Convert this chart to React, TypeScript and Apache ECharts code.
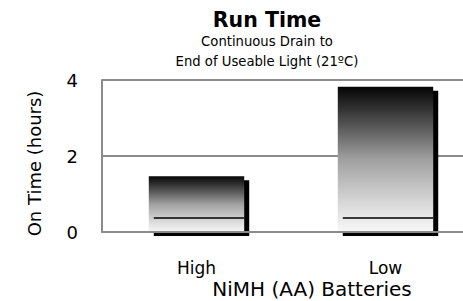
import React, { useEffect, useRef } from "react";
import * as echarts from "echarts";

const categories = ["High", "Low"];
const runTimeHours = [1.47, 3.82];
const yTicks = { min: 0, max: 4, interval: 2 };
const titleText = "Run Time";
const subtitleLines = ["Continuous Drain to", "End of Useable Light (21ºC)"];
const xAxisTitle = "NiMH (AA) Batteries";
const yAxisTitle = "On Time (hours)";

const FONT = "'DejaVu Sans', sans-serif";

export default function App() {
  const ref = useRef<HTMLDivElement>(null);
  useEffect(() => {
    if (!ref.current) return;
    const chart = echarts.init(ref.current, undefined, { renderer: "svg" });
    chart.setOption({
      animation: false,
      backgroundColor: "#ffffff",
      title: [
        {
          text: titleText,
          left: 262,
          top: 4,
          textAlign: "center",
          textStyle: { fontFamily: FONT, fontWeight: "bold", fontSize: 20.5, color: "#000" },
        },
        {
          text: subtitleLines.join("\n"),
          left: 262,
          top: 26,
          textAlign: "center",
          textStyle: { fontFamily: FONT, fontWeight: "normal", fontSize: 13.2, lineHeight: 20, color: "#000" },
        },
      ],
      graphic: [
        {
          type: "text",
          x: 312,
          y: 289,
          style: {
            text: xAxisTitle,
            fontFamily: FONT,
            fontSize: 20,
            fill: "#000",
            textAlign: "center",
            textVerticalAlign: "middle",
          },
        },
        {
          type: "text",
          x: 34,
          y: 163.5,
          rotation: Math.PI / 2,
          style: {
            text: yAxisTitle,
            fontFamily: FONT,
            fontSize: 18,
            fill: "#000",
            textAlign: "center",
            textVerticalAlign: "middle",
          },
        },
      ],
      grid: {
        left: 102,
        width: 378,
        top: 80,
        bottom: 69,
        containLabel: false,
        outerBoundsMode: "none",
      },
      xAxis: {
        type: "category",
        data: categories,
        z: 5,
        axisLine: { show: true, lineStyle: { color: "#8c8c8c", width: 2 } },
        axisTick: { show: false },
        axisLabel: { margin: 27, fontFamily: FONT, fontSize: 17, color: "#000" },
      },
      yAxis: {
        type: "value",
        min: yTicks.min,
        max: yTicks.max,
        interval: yTicks.interval,
        axisLine: { show: true, lineStyle: { color: "#8c8c8c", width: 2 } },
        axisTick: { show: false },
        axisLabel: { margin: 24, fontFamily: FONT, fontSize: 18, color: "#000" },
        splitLine: { show: true, lineStyle: { color: "#8c8c8c", width: 2 } },
      },
      series: [
        {
          type: "custom",
          data: runTimeHours.map((v, i) => [i, v]),
          encode: { x: 0, y: 1 },
          renderItem: (params: any, api: any) => {
            const idx = api.value(0);
            const val = api.value(1);
            const top = api.coord([idx, val]);
            const base = api.coord([idx, 0]);
            const w = api.size([1, 0])[0] * 0.505;
            const x = top[0] - w / 2;
            const h = base[1] - top[1];
            const dx = 5;
            const dy = 4;
            return {
              type: "group",
              children: [
                {
                  type: "rect",
                  shape: { x: x + dx, y: top[1] + dy, width: w, height: h },
                  style: { fill: "#000" },
                },
                {
                  type: "rect",
                  shape: { x, y: top[1], width: w, height: h },
                  style: {
                    fill: new echarts.graphic.LinearGradient(0, 0, 0, 1, [
                      { offset: 0, color: "#050505" },
                      { offset: 0.25, color: "#505050" },
                      { offset: 0.5, color: "#a0a0a0" },
                      { offset: 0.8, color: "#d8d8d8" },
                      { offset: 0.92, color: "#ebebeb" },
                      { offset: 1, color: "#f8f8f8" },
                    ]),
                  },
                },
                {
                  type: "line",
                  shape: { x1: x + dx, y1: base[1] - 14, x2: x + w, y2: base[1] - 14 },
                  style: { stroke: "#000", lineWidth: 1.5 },
                },
              ],
            };
          },
        },
      ],
    });
    return () => chart.dispose();
  }, []);
  return <div ref={ref} style={{ width: 463, height: 301, position: "absolute", left: 0, top: 0 }} />;
}
